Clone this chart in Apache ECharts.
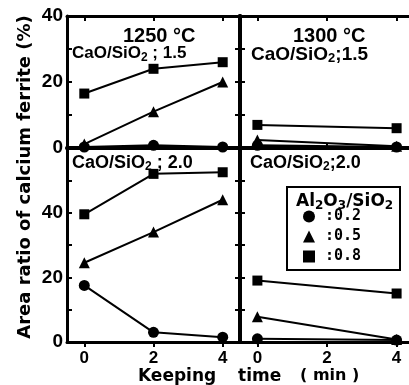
<!DOCTYPE html>
<html>
<head>
<meta charset="utf-8">
<script src="https://cdn.jsdelivr.net/npm/echarts@6/dist/echarts.min.js"></script>
<style>
    html, body { margin: 0; padding: 0; background: #fff; }
    #chart { width: 409px; height: 385px; }
</style>
</head>
<body>
<div id="chart"></div>
<script>
    // keeping time (min)
    const times = [0, 2, 4];
    const timesShort = [0, 4];
    const seriesNames = ['0.2', '0.5', '0.8'];

    // 1250 C, CaO/SiO2 = 1.5
    const t1250b15 = {'0.2': [0.3, 0.8, 0.3], '0.5': [1.2, 11, 20], '0.8': [16.5, 24, 26]};
    // 1300 C, CaO/SiO2 = 1.5
    const t1300b15 = {'0.2': [0.8, 0.3], '0.5': [2.4, 0.5], '0.8': [7, 6]};
    // 1250 C, CaO/SiO2 = 2.0
    const t1250b20 = {'0.2': [17.5, 3, 1.5], '0.5': [24.5, 34, 44], '0.8': [39.5, 52, 52.5]};
    // 1300 C, CaO/SiO2 = 2.0
    const t1300b20 = {'0.2': [1, 0.6], '0.5': [7.8, 0.8], '0.8': [19, 15]};

    const symbols = {'0.2': 'circle', '0.5': 'triangle', '0.8': 'rect'};
    const symbolSizes = {'0.2': 11, '0.5': 11, '0.8': 10};

    const font = '"Liberation Sans", Arial, sans-serif';
    const heavy = '"DejaVu Sans", "Liberation Sans", sans-serif';
    const mono = '"DejaVu Sans Mono", "Liberation Mono", monospace';

    const grids = [
        {left: 67, top: 16, width: 173, height: 132, ymax: 40, x: times, data: t1250b15},
        {left: 240, top: 16, width: 174, height: 132, ymax: 40, x: timesShort, data: t1300b15},
        {left: 67, top: 148, width: 173, height: 194, ymax: 60, x: times, data: t1250b20},
        {left: 240, top: 148, width: 174, height: 194, ymax: 60, x: timesShort, data: t1300b20}
    ];

    const xAxis = [], yAxis = [], series = [];

    grids.forEach((g, i) => {
        const bottomRow = i >= 2;
        const leftCol = i % 2 === 0;
        // bottom x axis
        xAxis.push({
            gridIndex: i, type: 'value', min: -0.5, max: 4.5, position: 'bottom',
            axisLine: {show: true, onZero: false, lineStyle: {color: '#000', width: bottomRow ? 3 : 4}},
            axisTick: {show: true, inside: !bottomRow, length: 5, customValues: [0, 2, 4], lineStyle: {color: '#000', width: 2}},
            axisLabel: {
                show: bottomRow, customValues: [0, 2, 4], margin: 8,
                color: '#000', fontFamily: font, fontWeight: 'bold', fontSize: 17
            },
            splitLine: {show: false}
        });
        // top x axis (frame)
        xAxis.push({
            gridIndex: i, type: 'value', min: -0.5, max: 4.5, position: 'top',
            axisLine: {show: true, onZero: false, lineStyle: {color: '#000', width: 3}},
            axisTick: {show: !bottomRow, inside: true, length: 5, customValues: [0, 2, 4], lineStyle: {color: '#000', width: 2}},
            axisLabel: {show: false},
            splitLine: {show: false}
        });
        // left y axis
        yAxis.push({
            gridIndex: i, type: 'value', min: 0, max: g.ymax, interval: 10, position: 'left',
            axisLine: {show: true, onZero: false, lineStyle: {color: '#000', width: leftCol ? 3 : 4}},
            axisTick: {show: true, inside: true, length: 5, lineStyle: {color: '#000', width: 2}},
            axisLabel: {
                show: leftCol, customValues: [0, 20, 40], margin: 4,
                color: '#000', fontFamily: font, fontWeight: 'bold', fontSize: 19
            },
            splitLine: {show: false}
        });
        // right y axis (frame)
        yAxis.push({
            gridIndex: i, type: 'value', min: 0, max: g.ymax, interval: 10, position: 'right',
            axisLine: {show: true, onZero: false, lineStyle: {color: '#000', width: 4}},
            axisTick: {show: true, inside: true, length: 5, lineStyle: {color: '#000', width: 2}},
            axisLabel: {show: false},
            splitLine: {show: false}
        });
        seriesNames.forEach(name => {
            series.push({
                name: name,
                type: 'line',
                xAxisIndex: i * 2,
                yAxisIndex: i * 2,
                data: g.x.map((t, k) => [t, g.data[name][k]]),
                symbol: symbols[name],
                symbolSize: symbolSizes[name],
                showSymbol: true,
                itemStyle: {color: '#000'},
                lineStyle: {color: '#000', width: 2},
                animation: false,
                z: 5
            });
        });
    });

    const textStyle = (size, family) => ({fill: '#000', fontFamily: family || font, fontWeight: 'bold', fontSize: size});
    const subStyle = (size, family) => ({
        sub: {fontFamily: family || font, fontWeight: 'bold', fontSize: size, verticalAlign: 'bottom', padding: [8, 0, 0, 0]}
    });

    const chart = echarts.init(document.getElementById('chart'));
    chart.setOption({
        backgroundColor: '#fff',
        animation: false,
        grid: grids.map(g => ({left: g.left, top: g.top, width: g.width, height: g.height, outerBoundsMode: 'none'})),
        xAxis: xAxis,
        yAxis: yAxis,
        series: series,
        legend: {
            data: seriesNames.map(n => ({name: n, icon: symbols[n]})),
            orient: 'vertical',
            left: 303,
            top: 209,
            itemWidth: 12,
            itemHeight: 12,
            itemGap: 5,
            padding: 0,
            selectedMode: false,
            formatter: n => ':' + n,
            textStyle: {color: '#000', fontFamily: mono, fontWeight: 'bold', fontSize: 15, padding: [0, 0, 0, 5]}
        },
        graphic: [
            {type: 'text', left: 123, top: 26, style: {text: '1250 °C', ...textStyle(20)}},
            {type: 'text', left: 293, top: 26, style: {text: '1300 °C', ...textStyle(20)}},
            {type: 'text', left: 72, top: 45, style: {text: 'CaO/SiO{sub|2} ; 1.5', rich: subStyle(12), ...textStyle(17)}},
            {type: 'text', left: 251, top: 45, style: {text: 'CaO/SiO{sub|2};1.5', rich: subStyle(13), ...textStyle(19)}},
            {type: 'text', left: 72, top: 154, style: {text: 'CaO/SiO{sub|2} ; 2.0', rich: subStyle(12), ...textStyle(18)}},
            {type: 'text', left: 250, top: 154, style: {text: 'CaO/SiO{sub|2};2.0', rich: subStyle(12), ...textStyle(18)}},
            // legend frame and title
            {type: 'rect', shape: {x: 287, y: 187, width: 113, height: 83}, style: {fill: '#fff', stroke: '#000', lineWidth: 2}, z: 1},
            {type: 'text', left: 296, top: 193, z: 2, style: {text: 'Al{sub|2}O{sub|3}/SiO{sub|2}', rich: subStyle(12, heavy), ...textStyle(17, heavy)}},
            // axis titles
            {type: 'text', x: 25, y: 177, rotation: Math.PI / 2, style: {text: 'Area ratio of calcium ferrite (%)', align: 'center', verticalAlign: 'middle', ...textStyle(18, heavy)}},
            {type: 'text', left: 138, top: 368, style: {text: 'Keeping', ...textStyle(17, heavy)}},
            {type: 'text', left: 238, top: 368, style: {text: 'time', ...textStyle(17, heavy)}},
            {type: 'text', left: 300, top: 368, style: {text: '( min )', ...textStyle(16, heavy)}}
        ]
    });
</script>
</body>
</html>
